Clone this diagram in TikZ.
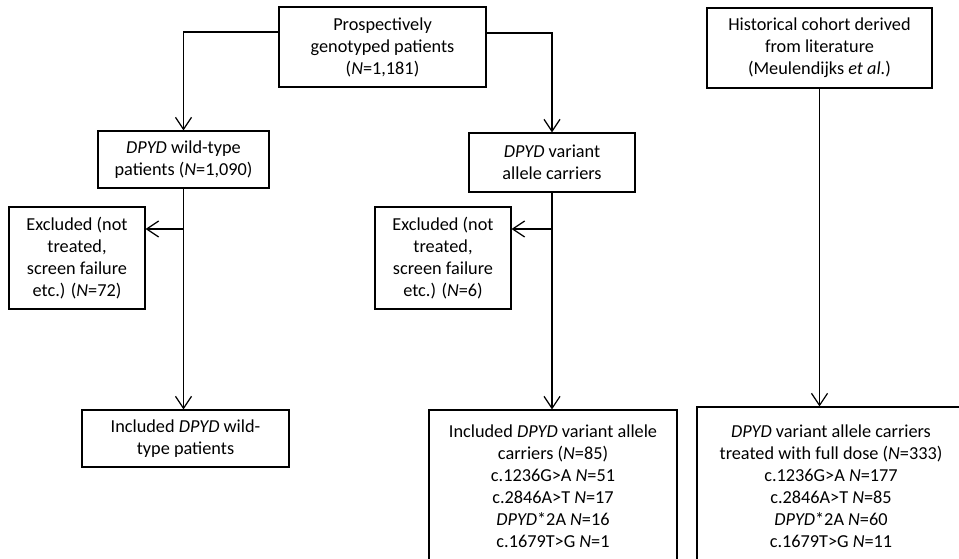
\documentclass[tikz,border=0pt]{standalone}
\usepackage{fontspec}
\setmainfont{Carlito}
\usetikzlibrary{positioning,arrows.meta}

\tikzset{
  box/.style={draw, line width=0.9pt, align=center, inner sep=2pt,
    font=\fontsize{13.7}{16.5}\selectfont},
  lowtext/.style={execute at begin node={\rule{0pt}{21pt}}},
  flow/.style={line width=0.9pt, -{Straight Barb[length=9pt,width=12pt,line width=0.9pt]}},
}

\begin{document}
\begin{tikzpicture}[x=0.75pt, y=-0.75pt]
        \useasboundingbox (0,0) rectangle (959,559);
        \begin{scope}[every node/.append style={box}]
            \node[lowtext, minimum width=155.25pt, minimum height=60pt](prosp) at (382.5, 47)
                {Prospectively\\genotyped patients\\(\textit{N}=1,181)};
            \node[lowtext, minimum width=168.75pt, minimum height=60pt](hist) at (819.5, 48)
                {Historical cohort derived\\from literature\\(Meulendijks \textit{et al.})};
            \node[lowtext, minimum width=128.25pt, minimum height=42.75pt](wild) at (183.5, 159.5)
                {\textit{DPYD} wild-type\\patients (\textit{N}=1,090)};
            \node[lowtext, minimum width=124.5pt, minimum height=44.25pt](variant) at (552, 162.5)
                {\textit{DPYD} variant\\allele carriers};
            \node[lowtext, minimum width=102pt, minimum height=76.5pt](exclA) at (77, 258)
                {Excluded (not\\treated,\\screen failure\\etc.) (\textit{N}=72)};
            \node[lowtext, minimum width=102pt, minimum height=76.5pt](exclB) at (443, 258)
                {Excluded (not\\treated,\\screen failure\\etc.) (\textit{N}=6)};
            \node[lowtext, minimum width=155.25pt, minimum height=42.75pt](inclwt) at (185.5, 438.5)
                {Included \textit{DPYD} wild-\\type patients};
            \node[minimum width=186pt, minimum height=114.75pt](inclvar) at (553, 486.5)
                {Included \textit{DPYD} variant allele\\carriers (\textit{N}=85)\\c.1236G>A \textit{N}=51\\c.2846A>T \textit{N}=17\\\textit{DPYD}*2A \textit{N}=16\\c.1679T>G \textit{N}=1};
            \node[minimum width=201pt, minimum height=119.25pt](fulldose) at (831, 486.5)
                {\textit{DPYD} variant allele carriers\\treated with full dose (\textit{N}=333)\\c.1236G>A \textit{N}=177\\c.2846A>T \textit{N}=85\\\textit{DPYD}*2A \textit{N}=60\\c.1679T>G \textit{N}=11};
        \end{scope}
        \coordinate (jA) at (wild.south |- 0,229);
        \coordinate (jB) at (variant.south |- 0,229);
        \draw[flow] (prosp.west |- 0,32) -| (wild.north);
        \draw[flow] (prosp.east |- 0,33) -| (variant.north);
        \draw[flow] (wild.south) -- (wild.south |- inclwt.north);
        \draw[flow] (jA) -- (exclA.east |- jA);
        \draw[flow] (variant.south) -- (variant.south |- inclvar.north);
        \draw[flow] (jB) -- (exclB.east |- jB);
        \draw[flow] (hist.south) -- (hist.south |- fulldose.north);
    \end{tikzpicture}
\end{document}
